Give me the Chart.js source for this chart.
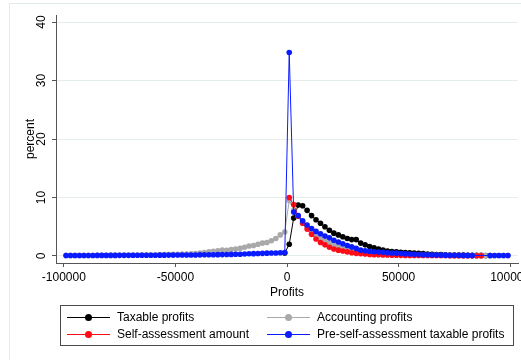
<!DOCTYPE html>
<html>
<head>
<meta charset="utf-8">
<script src="https://cdn.jsdelivr.net/npm/chart.js@4.4.0/dist/chart.umd.min.js"></script>
<style>
  body { margin: 0; background: #fff; font-family: "Liberation Sans", Arial, sans-serif; }
  #wrap { position: relative; width: 521px; height: 360px; overflow: hidden; }
  #frame { position: absolute; left: 9px; top: 3px; width: 600px; height: 400px;
           border-left: 1px solid #e3eaea; border-top: 1px solid #e3eaea; }
  #legenda { position: absolute; left: 60px; top: 305px; width: 452px; height: 39px;
             border: 1px solid #4a4a4a; font-size: 12px; color: #000; }
  .item { position: absolute; height: 14px; line-height: 14px; white-space: nowrap; }
  .linha { position: absolute; top: 7px; left: 0; width: 43px; height: 1px; }
  .ponto { position: absolute; top: 4px; left: 18px; width: 7px; height: 7px; border-radius: 50%; }
  .texto { position: absolute; left: 50px; top: 0; }
</style>
</head>
<body>
<div id="wrap">
  <div id="frame"></div>
  <canvas id="grafico" width="521" height="360"></canvas>
  <div id="legenda"></div>
</div>
<script>
// centros dos intervalos de lucro (largura 2000)
let bins = [
  -99000, -97000, -95000, -93000, -91000, -89000, -87000, -85000, -83000, -81000,
  -79000, -77000, -75000, -73000, -71000, -69000, -67000, -65000, -63000, -61000,
  -59000, -57000, -55000, -53000, -51000, -49000, -47000, -45000, -43000, -41000,
  -39000, -37000, -35000, -33000, -31000, -29000, -27000, -25000, -23000, -21000,
  -19000, -17000, -15000, -13000, -11000, -9000, -7000, -5000, -3000, -1000,
  1000, 3000, 5000, 7000, 9000, 11000, 13000, 15000, 17000, 19000,
  21000, 23000, 25000, 27000, 29000, 31000, 33000, 35000, 37000, 39000,
  41000, 43000, 45000, 47000, 49000, 51000, 53000, 55000, 57000, 59000,
  61000, 63000, 65000, 67000, 69000, 71000, 73000, 75000, 77000, 79000,
  81000, 83000, 85000, 87000, 89000, 91000, 93000, 95000, 97000, 99000,
];

let taxable = [
  null, null, null, null, null, null, null, null, null, null,
  null, null, null, null, null, null, null, null, null, null,
  null, null, null, null, null, null, null, null, null, null,
  null, null, null, null, null, null, null, null, null, null,
  null, null, null, null, null, null, null, null, null, 0.5,
  2.0, 6.5, 8.7, 8.6, 7.8, 6.9, 6.2, 5.6, 5.0, 4.4,
  3.9, 3.6, 3.3, 3.0, 2.8, 2.8, 2.2, 1.9, 1.6, 1.4,
  1.2, 1.0, 0.85, 0.75, 0.7, 0.65, 0.6, 0.55, 0.5, 0.45,
  0.4, 0.35, 0.3, 0.26, 0.23, 0.2, 0.18, 0.16, 0.15, 0.14,
  0.12, 0.11, 0.1, 0.1, 0.09, 0.09, null, null, null, null,
];

let accounting = [
  0.1, 0.1, 0.1, 0.1, 0.11, 0.11, 0.12, 0.12, 0.13, 0.13,
  0.14, 0.14, 0.15, 0.16, 0.16, 0.17, 0.18, 0.19, 0.2, 0.21,
  0.22, 0.23, 0.25, 0.26, 0.28, 0.3, 0.32, 0.35, 0.38, 0.42,
  0.5, 0.6, 0.7, 0.8, 0.9, 1.0, 0.95, 1.1, 1.2, 1.3,
  1.5, 1.7, 1.8, 2.0, 2.2, 2.3, 2.6, 3.0, 3.6, 4.1,
  9.5, 7.8, 6.8, 5.8, 5.0, 4.2, 3.5, 3.0, 2.6, 2.2,
  1.9, 1.6, 1.4, 1.2, 1.0, 0.85, 0.7, 0.6, 0.52, 0.45,
  0.4, 0.36, 0.32, 0.29, 0.26, 0.24, 0.22, 0.2, 0.18, 0.16,
  0.15, 0.14, 0.13, 0.12, 0.11, 0.1, 0.1, 0.09, 0.09, 0.09,
  0.08, 0.08, 0.08, 0.08, 0.07, 0.07, 0.07, 0.07, 0.07, 0.07,
];

let selfAssessment = [
  null, null, null, null, null, null, null, null, null, null,
  null, null, null, null, null, null, null, null, null, null,
  null, null, null, null, null, null, null, null, null, null,
  null, null, null, null, null, null, null, null, null, null,
  null, null, null, null, null, null, null, null, null, null,
  10.0, 8.8, 6.8, 5.6, 4.6, 3.7, 2.9, 2.3, 1.9, 1.5,
  1.2, 1.0, 0.85, 0.7, 0.55, 0.45, 0.38, 0.32, 0.27, 0.23,
  0.2, 0.18, 0.16, 0.14, 0.12, 0.11, 0.1, 0.1, 0.09, 0.09,
  0.08, 0.08, 0.08, 0.07, 0.07, 0.07, 0.06, 0.06, 0.06, 0.06,
  0.05, 0.05, 0.05, 0.05, null, null, null, null, null, null,
];

let preSelf = [
  0.08, 0.08, 0.08, 0.09, 0.09, 0.09, 0.09, 0.1, 0.1, 0.1,
  0.1, 0.1, 0.11, 0.11, 0.11, 0.12, 0.12, 0.12, 0.13, 0.13,
  0.13, 0.14, 0.14, 0.15, 0.15, 0.16, 0.16, 0.17, 0.18, 0.18,
  0.19, 0.2, 0.21, 0.22, 0.23, 0.24, 0.26, 0.27, 0.29, 0.3,
  0.35, 0.38, 0.4, 0.42, 0.45, 0.48, 0.5, 0.52, 0.55, 0.6,
  34.8, 7.5, 6.9, 6.0, 5.3, 4.7, 4.2, 3.8, 3.4, 3.1,
  2.7, 2.4, 2.1, 1.8, 1.55, 1.3, 1.0, 0.9, 0.8, 0.72,
  0.68, 0.62, 0.56, 0.52, 0.48, 0.42, 0.36, 0.32, 0.28, 0.25,
  0.22, 0.2, 0.18, 0.16, 0.15, 0.14, 0.13, 0.12, 0.11, 0.1,
  0.1, 0.09, null, null, null, 0.08, 0.08, 0.08, 0.07, 0.07,
];

let yTicks = [0, 10, 20, 30, 40];
let xTicks = [-100000, -50000, 0, 50000, 100000];

let series = [
  { nome: "Taxable profits", dados: taxable, cor: "#000000", ordem: 3 },
  { nome: "Accounting profits", dados: accounting, cor: "#a9a9a9", ordem: 2 },
  { nome: "Self-assessment amount", dados: selfAssessment, cor: "#ff0a16", ordem: 1 },
  { nome: "Pre-self-assessment taxable profits", dados: preSelf, cor: "#0a1bff", ordem: 0 },
];

const fonte = "'Liberation Sans', Arial, sans-serif";

// desenha os rótulos verticais do eixo y (estilo Stata)
const rotulosY = {
  id: "rotulosY",
  afterDraw(chart) {
    const ctx = chart.ctx;
    const y = chart.scales.y;
    ctx.save();
    ctx.fillStyle = "#000";
    ctx.font = "12px " + fonte;
    ctx.textAlign = "center";
    ctx.textBaseline = "middle";
    yTicks.forEach((v) => {
      ctx.save();
      ctx.translate(42, y.getPixelForValue(v));
      ctx.rotate(-Math.PI / 2);
      ctx.fillText(String(v), 0, 0);
      ctx.restore();
    });
    ctx.translate(31, (chart.chartArea.top + chart.chartArea.bottom) / 2);
    ctx.rotate(-Math.PI / 2);
    ctx.fillText("percent", 0, 0);
    ctx.restore();
  },
};

new Chart("grafico", {
  type: "line",
  data: {
    datasets: series.map((s) => ({
      label: s.nome,
      data: bins.map((b, i) => ({ x: b, y: s.dados[i] })),
      borderColor: s.cor,
      backgroundColor: s.cor,
      borderWidth: 1,
      pointRadius: 2.8,
      pointBorderWidth: 0,
      pointHoverRadius: 2.8,
      spanGaps: true,
      order: s.ordem,
      tension: 0,
    })),
  },
  options: {
    responsive: false,
    animation: false,
    events: [],
    layout: { padding: { top: 15, right: 3, bottom: 57, left: 0 } },
    plugins: {
      legend: { display: false },
      tooltip: { enabled: false },
    },
    scales: {
      x: {
        type: "linear",
        min: -103500,
        max: 103500,
        afterBuildTicks: (scale) => {
          scale.ticks = xTicks.map((v) => ({ value: v }));
        },
        afterFit: (scale) => {
          scale.height = 40;
          scale.paddingLeft = 0;
          scale.paddingRight = 0;
        },
        ticks: {
          color: "#000",
          font: { family: fonte, size: 12 },
          padding: 3,
          maxRotation: 0,
          autoSkip: false,
          callback: (v) => String(v),
        },
        grid: { drawOnChartArea: false, drawTicks: true, tickLength: 4, tickColor: "#555" },
        border: { color: "#555", width: 1 },
        title: {
          display: true,
          text: "Profits",
          color: "#000",
          font: { family: fonte, size: 12 },
          padding: { top: 0, bottom: 3 },
        },
      },
      y: {
        type: "linear",
        min: -1.2,
        max: 41.2,
        afterBuildTicks: (scale) => {
          scale.ticks = yTicks.map((v) => ({ value: v }));
        },
        afterFit: (scale) => {
          scale.width = 56;
          scale.paddingTop = 0;
          scale.paddingBottom = 0;
        },
        ticks: { display: true, color: "rgba(0,0,0,0)", font: { size: 12 } },
        grid: { color: "#e6eded", lineWidth: 1, drawTicks: true, tickLength: 4, tickColor: "#555" },
        border: { color: "#555", width: 1 },
      },
    },
  },
  plugins: [rotulosY],
});

// legenda em caixa com duas colunas
let posLegenda = [
  { left: 6, top: 4 },
  { left: 206, top: 4 },
  { left: 6, top: 21 },
  { left: 206, top: 21 },
];
series.forEach((s, i) => {
  document.querySelector("#legenda").innerHTML += `
    <div class="item" style="left:${posLegenda[i].left}px; top:${posLegenda[i].top}px;">
      <div class="linha" style="background:${s.cor};"></div>
      <div class="ponto" style="background:${s.cor};"></div>
      <span class="texto">${s.nome}</span>
    </div>`;
});
</script>
</body>
</html>
